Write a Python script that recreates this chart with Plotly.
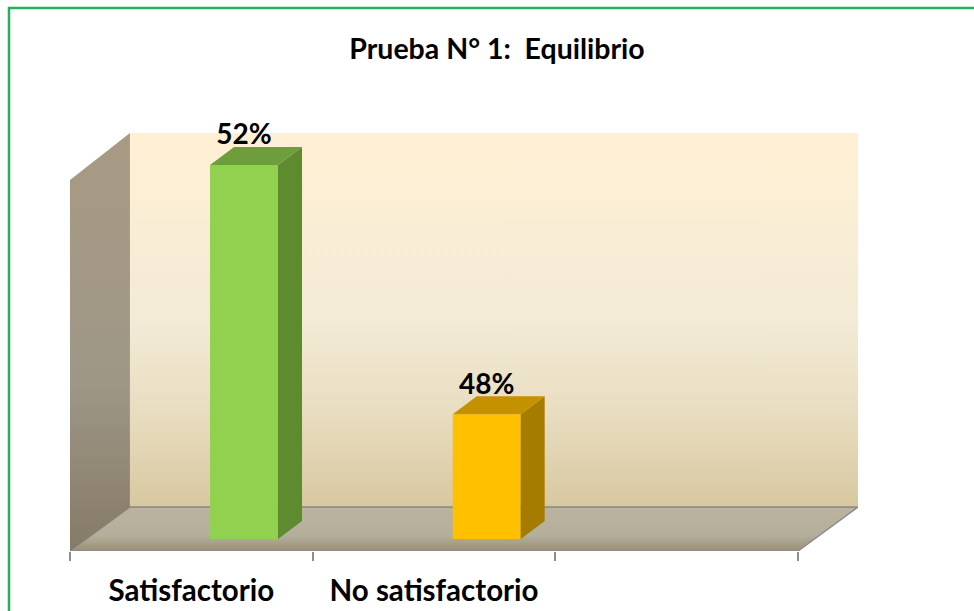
import plotly.graph_objects as go

# ---- data ----
categories = ["Satisfactorio", "No satisfactorio", ""]
values = [52, 48]
value_labels = ["52%", "48%"]
front_colors = ["#92D050", "#FFC000"]
side_colors = ["#5E8A30", "#A67C00"]
top_colors = ["#6E9E3C", "#C49200"]
title_text = "Prueba N° 1:  Equilibrio"

# ---- scale setup ----
y_base = 46.0            # value axis minimum (bar base)
y_min, y_max = 45.807, 52.514
x_max = 3.247
wall_dx, wall_dy = 0.247, 0.706      # depth offset of back wall (x units, value units)
bar_dx, bar_dy = 0.099, 0.289        # depth offset of bar 3D faces
bar_offset, bar_w = 0.717, 0.28      # bar position inside each category
label_gap = -0.07                    # label baseline relative to bar top-back edge
FONT = "Lato"

fig = go.Figure()

# ---- walls and floor (base axes) ----
fx = [0, 3, 3 + wall_dx, wall_dx, 0]
fy = [y_min, y_min, y_min + wall_dy, y_min + wall_dy, y_min]
fig.add_trace(go.Scatter(x=fx, y=fy, mode="lines", fill="toself",
                         line=dict(color="#8C8C8C", width=1.5),
                         fillgradient=dict(type="vertical",
                                           colorscale=[[0, "#9C8F77"], [0.35, "#B2AF9B"], [1, "#BDB39F"]]),
                         hoverinfo="skip", showlegend=False))
bx = [wall_dx, 3 + wall_dx, 3 + wall_dx, wall_dx, wall_dx]
by = [y_min + wall_dy, y_min + wall_dy, y_max, y_max, y_min + wall_dy]
fig.add_trace(go.Scatter(x=bx, y=by, mode="lines", fill="toself",
                         line=dict(color="rgba(0,0,0,0)", width=0),
                         fillgradient=dict(type="vertical",
                                           colorscale=[[0, "#D8C8A0"], [0.25, "#E8DDC0"], [0.5, "#F3EBD6"], [1, "#FFF0D4"]]),
                         hoverinfo="skip", showlegend=False))
fig.add_trace(go.Scatter(x=[wall_dx, 3 + wall_dx], y=[y_min + wall_dy] * 2, mode="lines",
                         line=dict(color="#8C8C8C", width=1.5), hoverinfo="skip", showlegend=False))
lx = [0, wall_dx, wall_dx, 0, 0]
ly = [y_min, y_min + wall_dy, y_max, y_max - 0.754, y_min]
fig.add_trace(go.Scatter(x=lx, y=ly, mode="lines", fill="toself",
                         line=dict(color="rgba(0,0,0,0)", width=0),
                         fillgradient=dict(type="vertical",
                                           colorscale=[[0, "#857A66"], [0.4, "#9E9786"], [1, "#A89A84"]]),
                         hoverinfo="skip", showlegend=False))

# ---- bars (overlay axes so they sit above the walls) ----
xc = [i + bar_offset for i in range(len(values))]
fig.add_trace(go.Bar(x=xc, y=[v - y_base for v in values], base=y_base, width=bar_w,
                     xaxis="x3", yaxis="y3",
                     marker=dict(color=front_colors, line=dict(width=0)),
                     hoverinfo="skip", showlegend=False))

for i, v in enumerate(values):
    x0, x1 = xc[i] - bar_w / 2, xc[i] + bar_w / 2
    fig.add_trace(go.Scatter(
        x=[x1, x1 + bar_dx, x1 + bar_dx, x1, x1],
        y=[y_base, y_base + bar_dy, v + bar_dy, v, y_base],
        xaxis="x3", yaxis="y3",
        mode="lines", fill="toself", fillcolor=side_colors[i],
        line=dict(width=0, color=side_colors[i]), hoverinfo="skip", showlegend=False))
    fig.add_trace(go.Scatter(
        x=[x0, x1, x1 + bar_dx, x0 + bar_dx, x0],
        y=[v, v, v + bar_dy, v + bar_dy, v],
        xaxis="x3", yaxis="y3",
        mode="lines", fill="toself", fillcolor=top_colors[i],
        line=dict(width=0, color=top_colors[i]), hoverinfo="skip", showlegend=False))

fig.add_trace(go.Scatter(x=xc, y=[v + bar_dy + label_gap for v in values], mode="text",
                         xaxis="x3", yaxis="y3",
                         text=value_labels, textposition="top center",
                         textfont=dict(family=FONT, size=28, color="#000000", weight="bold"),
                         cliponaxis=False, hoverinfo="skip", showlegend=False))

# dummy trace on the category-label axis
fig.add_trace(go.Scatter(x=[0.5], y=[y_min], xaxis="x2", mode="markers",
                         marker=dict(opacity=0), hoverinfo="skip", showlegend=False))

pw = 974 - 70 - 116
ph = 611 - 133 - 60

fig.update_layout(
    width=974, height=611, autosize=False,
    margin=dict(l=70, r=116, t=133, b=60, autoexpand=False),
    paper_bgcolor="white", plot_bgcolor="rgba(0,0,0,0)",
    title=dict(text=title_text, x=497 / 974, xref="container", xanchor="center",
               y=1 - 49 / 611, yref="container", yanchor="middle",
               font=dict(family=FONT, size=28.5, color="#000000", weight="bold")),
    xaxis=dict(range=[0, x_max], tickvals=[0, 1, 2, 3], showticklabels=False,
               ticks="outside", ticklen=9, tickwidth=1.5, tickcolor="#8C8C8C", automargin=False,
               showgrid=False, zeroline=False, showline=False, fixedrange=True),
    xaxis2=dict(range=[0, x_max], overlaying="x", side="bottom", automargin=False,
                tickvals=[0.5, 1.5, 2.5], ticktext=categories, ticks="",
                tickfont=dict(family=FONT, size=29.5, color="#000000", weight="bold"),
                ticklabelstandoff=19,
                showgrid=False, zeroline=False, showline=False, fixedrange=True),
    xaxis3=dict(range=[0, x_max], overlaying="x", visible=False, fixedrange=True, automargin=False),
    yaxis=dict(range=[y_min, y_max], visible=False, fixedrange=True, automargin=False),
    yaxis3=dict(range=[y_min, y_max], overlaying="y", visible=False, fixedrange=True, automargin=False),
    shapes=[dict(type="rect", xref="paper", yref="paper",
                 x0=(9 - 70) / pw, x1=(1000 - 70) / pw,
                 y0=(551 - 640) / ph, y1=(551 - 8) / ph,
                 line=dict(color="#22B35A", width=2.5), fillcolor="rgba(0,0,0,0)", layer="below")],
)

fig.write_html("out.html", config={"displayModeBar": False},
               post_script="document.body.style.margin='0';document.body.style.overflow='hidden';")
